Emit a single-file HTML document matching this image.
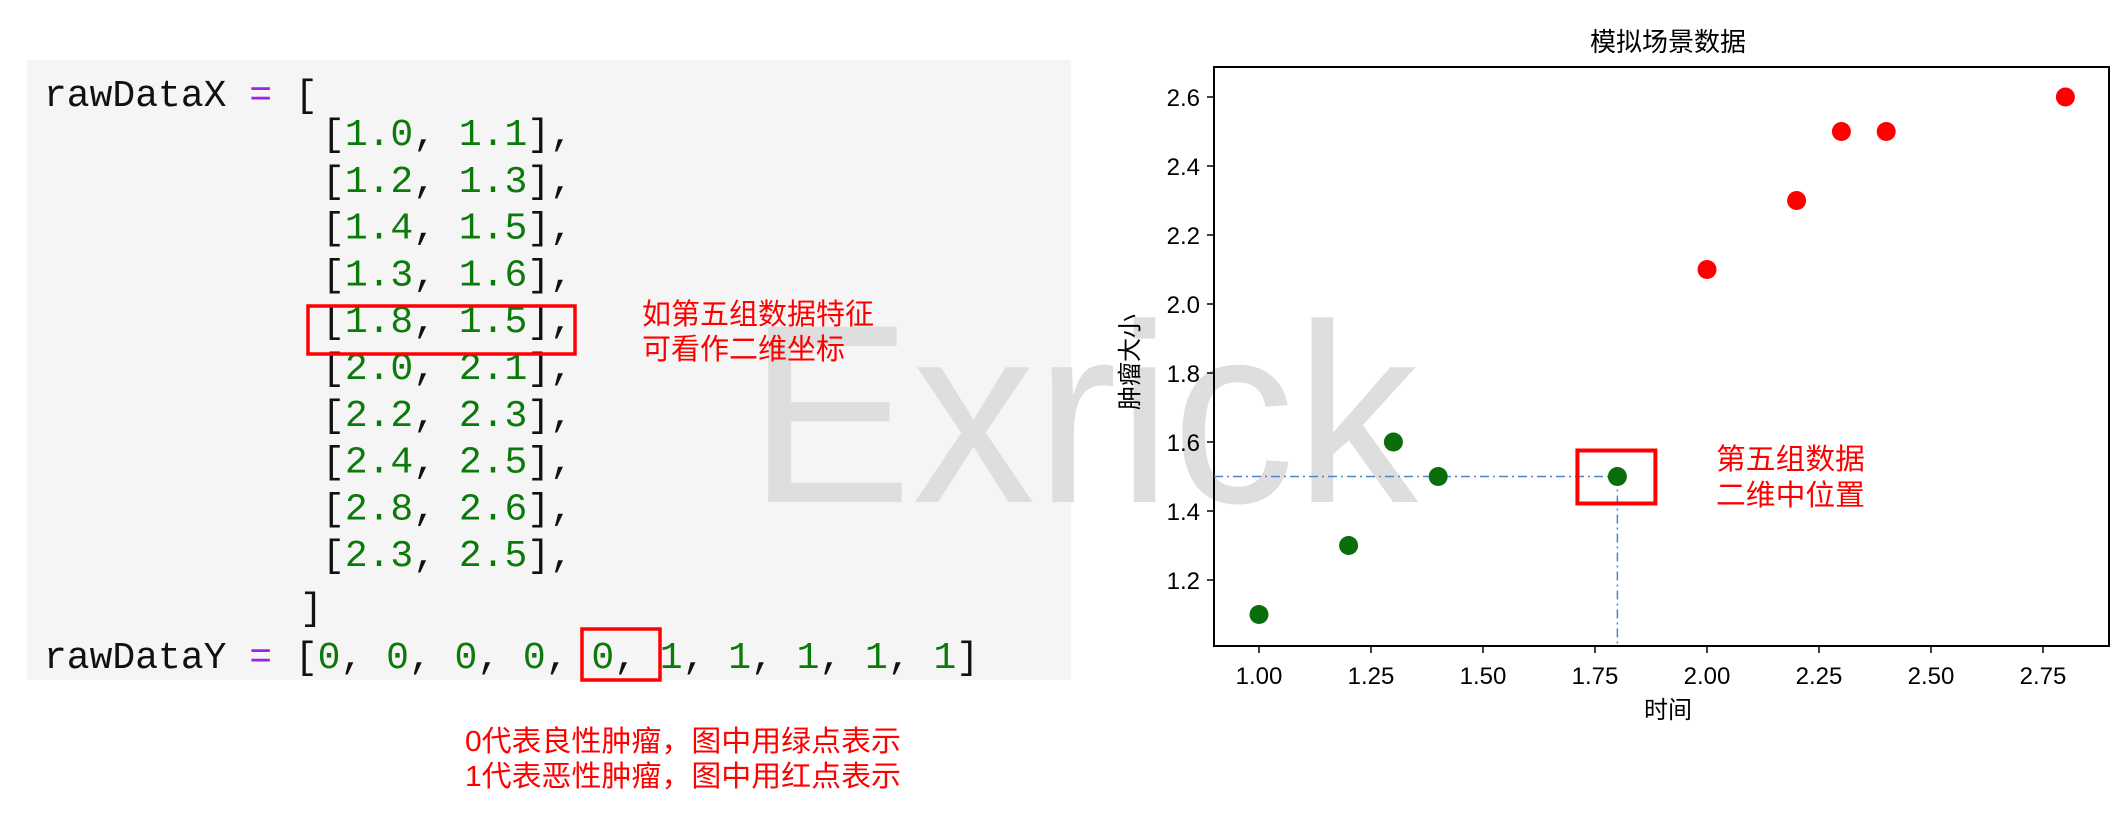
<!DOCTYPE html>
<html><head><meta charset="utf-8">
<style>
html,body{margin:0;padding:0;background:#fff;}
svg{display:block;}
.code{font-family:"Liberation Mono",monospace;font-size:38px;}
.cjk{font-family:"Liberation Sans","Noto Sans CJK SC",sans-serif;}
.tick{font-family:"Liberation Sans","Noto Sans CJK SC",sans-serif;font-size:24px;fill:#000;}
</style></head>
<body>
<svg id="root" width="2126" height="826" viewBox="0 0 2126 826" xmlns="http://www.w3.org/2000/svg">
  <rect x="27" y="60" width="1044" height="620" fill="#f5f5f5"/>
  <text x="748" y="502" font-family="Liberation Sans, sans-serif" font-size="255" fill="#dedede" textLength="670" lengthAdjust="spacingAndGlyphs">Exrick</text>
  <g id="code" class="code"></g>
  <rect x="308" y="306" width="267" height="48" fill="none" stroke="#f00" stroke-width="3.5"/>
  <rect x="582" y="629" width="78" height="51" fill="none" stroke="#f00" stroke-width="3.5"/>
  <text class="cjk" x="642" y="324" font-size="29" fill="#f00">如第五组数据特征</text>
  <text class="cjk" x="642" y="359" font-size="29" fill="#f00">可看作二维坐标</text>
  <text class="cjk" x="465" y="751" font-size="29" fill="#f00" textLength="436" lengthAdjust="spacingAndGlyphs">0代表良性肿瘤，图中用绿点表示</text>
  <text class="cjk" x="465" y="786" font-size="29" fill="#f00" textLength="436" lengthAdjust="spacingAndGlyphs">1代表恶性肿瘤，图中用红点表示</text>
  <g id="chart"></g>
</svg>
<script>
const xs = [1.0, 1.2, 1.4, 1.3, 1.8, 2.0, 2.2, 2.4, 2.8, 2.3];
const ys = [1.1, 1.3, 1.5, 1.6, 1.5, 2.1, 2.3, 2.5, 2.6, 2.5];
const labels = [0, 0, 0, 0, 0, 1, 1, 1, 1, 1];
const xTicks = [1.00, 1.25, 1.50, 1.75, 2.00, 2.25, 2.50, 2.75];
const yTicks = [1.2, 1.4, 1.6, 1.8, 2.0, 2.2, 2.4, 2.6];
const highlightIndex = 4;

const NS = 'http://www.w3.org/2000/svg';
function mk(tag, attrs, parent){const e=document.createElementNS(NS,tag);for(const k in attrs)e.setAttribute(k,attrs[k]);parent.appendChild(e);return e;}

// code block
const code = document.getElementById('code');
function codeLine(x, y, parts, name){
  const t = mk('text',{x:x,y:y},code);
  
  
  parts.forEach(p=>{const s=mk('tspan',{fill:p[1]},t);s.textContent=p[0];});
}
const BLK='#111', GRN='#0b7a0b', PUR='#a020f0';
codeLine(44,106,[['rawDataX ',BLK],['=',PUR],[' [',BLK]],'rawdatax-line');
xs.forEach((v,i)=>{
  codeLine(322,145+i*46.8,[['[',BLK],[v.toFixed(1),GRN],[', ',BLK],[ys[i].toFixed(1),GRN],['],',BLK]],'rawdatax-row');
});
codeLine(300,619,[[']',BLK]],'rawdatax-close');
const yparts=[['rawDataY ',BLK],['=',PUR],[' [',BLK]];
labels.forEach((l,i)=>{yparts.push([String(l),GRN]);yparts.push([i<labels.length-1?', ':']',BLK]);});
codeLine(44,668,yparts,'rawdatay-line');

// chart
const chart = document.getElementById('chart');
const L=1214,R=2109,T=67,B=646;
const X = v => 1259 + (v-1.0)*448;
const Y = v => 580 - (v-1.2)*345;
const bg=mk('rect',{x:L,y:T,width:R-L,height:B-T,fill:'none',stroke:'#000','stroke-width':2},chart);


xTicks.forEach(v=>{
  const l=mk('line',{x1:X(v),x2:X(v),y1:B,y2:B+7,stroke:'#000','stroke-width':1.5},chart);
  
  
  const t=mk('text',{x:X(v),y:B+38,'text-anchor':'middle',class:'tick'},chart);
  
  
  t.textContent=v.toFixed(2);
});
yTicks.forEach(v=>{
  const l=mk('line',{x1:L-7,x2:L,y1:Y(v),y2:Y(v),stroke:'#000','stroke-width':1.5},chart);
  
  
  const t=mk('text',{x:L-14,y:Y(v)+9,'text-anchor':'end',class:'tick'},chart);
  
  
  t.textContent=v.toFixed(1);
});
const hx=X(xs[highlightIndex]), hy=Y(ys[highlightIndex]);
const g1=mk('line',{x1:L,x2:hx,y1:hy,y2:hy,stroke:'#4a86c8','stroke-width':1.5,'stroke-dasharray':'9 4 2 4'},chart);


const g2=mk('line',{x1:hx,x2:hx,y1:hy,y2:B,stroke:'#4a86c8','stroke-width':1.5,'stroke-dasharray':'9 4 2 4'},chart);


xs.forEach((v,i)=>{
  const c=mk('circle',{cx:X(v),cy:Y(ys[i]),r:9.5,fill:labels[i]?'#ff0000':'#0a6e0a'},chart);
  
  
});
const hb=mk('rect',{x:hx-40,y:hy-26,width:78,height:53,fill:'none',stroke:'#f00','stroke-width':4},chart);


function txt(x,y,s,attrs,name){const t=mk('text',Object.assign({x:x,y:y,class:'cjk'},attrs),chart);t.textContent=s;return t;}
txt(1668,51,'模拟场景数据',{'text-anchor':'middle','font-size':26,fill:'#000'},'chart-title');
txt(1668,718,'时间',{'text-anchor':'middle','font-size':24,fill:'#000'},'x-axis-title');
txt(0,0,'肿瘤大小',{'text-anchor':'middle','font-size':24,fill:'#000',transform:'translate(1138,362) rotate(-90)'},'y-axis-title');
txt(1716,469,'第五组数据',{'font-size':29,fill:'#f00',textLength:149,lengthAdjust:'spacingAndGlyphs'},'annotation-fifth');
txt(1716,505,'二维中位置',{'font-size':29,fill:'#f00',textLength:149,lengthAdjust:'spacingAndGlyphs'},'annotation-position');
</script>
</body></html>
